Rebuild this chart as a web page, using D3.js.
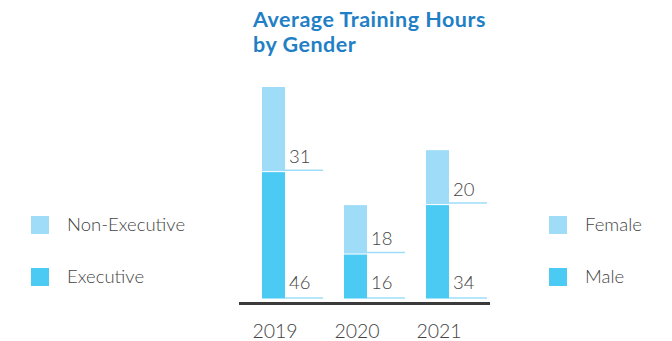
<!DOCTYPE html>
<html>
<head>
<meta charset="utf-8">
<script src="https://cdn.jsdelivr.net/npm/d3@7"></script>
<style>
  html, body { margin: 0; padding: 0; background: #fff; }
  svg { display: block; font-family: Lato, "Open Sans", sans-serif; }
  .light { font-weight: 300; }
</style>
</head>
<body>
<svg id="chart" width="672" height="341"></svg>
<script>
const years = ["2019", "2020", "2021"];
const executive = [46, 16, 34];
const nonExecutive = [31, 18, 20];
const leftLegend = ["Non-Executive", "Executive"];
const rightLegend = ["Female", "Male"];

const colLight = "#9fdcf8";
const colDark = "#4bcaf4";
const textCol = "#444";

const svg = d3.select("#chart");

const x = d3.scalePoint().domain(years).range([273.5, 437.5]);
const y = d3.scaleLinear().domain([0, 77]).range([298.5, 87]);
const barW = 23;
const lineLen = 38;

// title
const title = svg.append("text")
  .attr("x", 253).attr("y", 27)
  .attr("fill", "#1f80c6")
  .attr("font-weight", 700)
  .attr("font-size", 21.5)
  .attr("letter-spacing", 0.5);
title.append("tspan").attr("x", 253).text("Average Training Hours");
title.append("tspan").attr("x", 253).attr("dy", 25).text("by Gender");

const rows = years.map((yr, i) => ({
  year: yr,
  exec: executive[i],
  non: nonExecutive[i]
}));

const g = svg.append("g");

// bottom segments
g.selectAll(".exec").data(rows).join("rect")
  .attr("x", d => x(d.year) - barW / 2)
  .attr("y", d => y(d.exec))
  .attr("width", barW)
  .attr("height", d => y(0) - y(d.exec))
  .attr("fill", colDark);

// top segments (thin white gap at the seam)
g.selectAll(".non").data(rows).join("rect")
  .attr("x", d => x(d.year) - barW / 2)
  .attr("y", d => y(d.exec + d.non))
  .attr("width", barW)
  .attr("height", d => y(d.exec) - y(d.exec + d.non) - 1)
  .attr("fill", colLight);

// value labels with leader lines at each segment's base
const labels = [];
rows.forEach(d => {
  labels.push({ year: d.year, base: 0, v: d.exec, off: 0.5 });
  labels.push({ year: d.year, base: d.exec, v: d.non, off: 2 });
});

g.selectAll(".lead").data(labels).join("line")
  .attr("x1", d => x(d.year) + barW / 2)
  .attr("x2", d => x(d.year) + barW / 2 + lineLen)
  .attr("y1", d => y(d.base) - d.off)
  .attr("y2", d => y(d.base) - d.off)
  .attr("stroke", colLight)
  .attr("stroke-width", 1.5);

g.selectAll(".val").data(labels).join("text")
  .attr("class", "light")
  .attr("x", d => x(d.year) + barW / 2 + 4)
  .attr("y", d => y(d.base) - 9.5)
  .attr("fill", textCol)
  .attr("font-size", 18.5)
  .text(d => d.v);

// baseline
svg.append("line")
  .attr("x1", 239).attr("x2", 490)
  .attr("y1", 303.5).attr("y2", 303.5)
  .attr("stroke", "#3a3a3a")
  .attr("stroke-width", 3);

// year labels
svg.selectAll(".yr").data(years).join("text")
  .attr("class", "light")
  .attr("x", d => x(d) + 1.5)
  .attr("y", 337.5)
  .attr("text-anchor", "middle")
  .attr("fill", textCol)
  .attr("font-size", 19.5)
  .text(d => d);

// legends
function legend(items, sx, tx) {
  const lg = svg.append("g");
  items.forEach((name, i) => {
    const yy = 216 + i * 52;
    lg.append("rect")
      .attr("x", sx).attr("y", yy)
      .attr("width", 18).attr("height", 18)
      .attr("fill", i === 0 ? colLight : colDark);
    lg.append("text")
      .attr("class", "light")
      .attr("x", tx).attr("y", yy + 14.5)
      .attr("fill", textCol)
      .attr("font-size", 18.5)
      .text(name);
  });
}
legend(leftLegend, 31, 67);
legend(rightLegend, 549, 585);
</script>
</body>
</html>
